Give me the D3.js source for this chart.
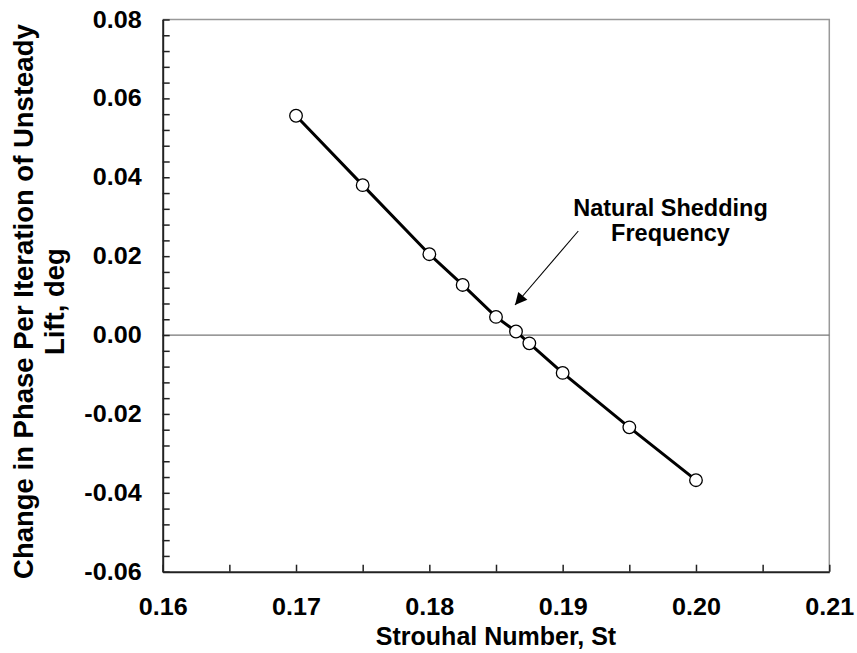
<!DOCTYPE html>
<html>
<head>
<meta charset="utf-8">
<script src="https://cdn.jsdelivr.net/npm/d3@7"></script>
<style>
  html, body { margin: 0; padding: 0; background: #fff; }
  svg { display: block; }
  text { font-family: "Liberation Sans", Arial, Helvetica, sans-serif; font-weight: bold; fill: #000; }
</style>
</head>
<body>
<svg id="chart" width="857" height="653"></svg>
<script>
// ---- data ----
const strouhal = [0.17, 0.175, 0.18, 0.1825, 0.185, 0.1865, 0.1875, 0.19, 0.195, 0.20];
const phaseChange = [0.0556, 0.0380, 0.0205, 0.0127, 0.0046, 0.0009, -0.0021, -0.0096, -0.0234, -0.0368];
const xTickValues = [0.16, 0.17, 0.18, 0.19, 0.20, 0.21];
const xTickLabels = ["0.16", "0.17", "0.18", "0.19", "0.20", "0.21"];
const yTickValues = [0.08, 0.06, 0.04, 0.02, 0.00, -0.02, -0.04, -0.06];
const yTickLabels = ["0.08", "0.06", "0.04", "0.02", "0.00", "-0.02", "-0.04", "-0.06"];
const xMinorTicks = [0.16, 0.165, 0.17, 0.175, 0.18, 0.185, 0.19, 0.195, 0.20, 0.205, 0.21];
const yMinorTicks = d3.range(0, 36).map(i => +(-0.06 + i * 0.004).toFixed(3));
const xTitle = "Strouhal Number, St";
const yTitleLines = ["Change in Phase Per Iteration of Unsteady", "Lift, deg"];
const annotationLines = ["Natural Shedding", "Frequency"];

(function () {
// ---- layout ----
const svg = d3.select("#chart");
const pLeft = 162.7, pRight = 829.3, pTop = 19.5, pBottom = 571.7;
const x = d3.scaleLinear().domain([0.16, 0.21]).range([pLeft, pRight]);
const y = d3.scaleLinear().domain([-0.06, 0.08]).range([pBottom, pTop]);

function stretch(sel, k) {
  sel.each(function () {
    const w = this.getComputedTextLength();
    d3.select(this).attr("textLength", w * k).attr("lengthAdjust", "spacingAndGlyphs");
  });
}

// gray frame (top & right)
svg.append("path")
  .attr("d", `M${pLeft},${pTop}H${pRight}V${pBottom}`)
  .attr("fill", "none").attr("stroke", "#999").attr("stroke-width", 1.5);

// zero line
svg.append("line")
  .attr("x1", pLeft).attr("x2", pRight)
  .attr("y1", y(0)).attr("y2", y(0))
  .attr("stroke", "#777").attr("stroke-width", 1.2);

// x axis minor ticks (inside)
const gx = svg.append("g").attr("transform", `translate(0,${pBottom})`)
  .call(d3.axisBottom(x).tickValues(xMinorTicks).tickSizeInner(-7).tickSizeOuter(0).tickFormat(""));
gx.selectAll("line").attr("stroke", "#222").attr("stroke-width", 1.5);
gx.select(".domain").attr("stroke", "#222").attr("stroke-width", 2);

// x labels
const gxl = svg.append("g").attr("transform", `translate(0,${pBottom})`)
  .call(d3.axisBottom(x).tickValues(xTickValues).tickSize(0).tickPadding(27)
    .tickFormat((d, i) => xTickLabels[i]));
gxl.select(".domain").remove();
gxl.selectAll("text").attr("font-size", 23.5).attr("font-family", null).attr("fill", "#000");
stretch(gxl.selectAll("text"), 1.07);

// y axis minor ticks
const gy = svg.append("g").attr("transform", `translate(${pLeft},0)`)
  .call(d3.axisLeft(y).tickValues(yMinorTicks).tickSizeInner(-7).tickSizeOuter(0).tickFormat(""));
gy.selectAll("line").attr("stroke", "#222").attr("stroke-width", 1.5);
gy.select(".domain").attr("stroke", "#222").attr("stroke-width", 2);

// y labels
const gyl = svg.append("g").attr("transform", `translate(${pLeft},0)`)
  .call(d3.axisLeft(y).tickValues(yTickValues).tickSize(0).tickPadding(21)
    .tickFormat((d, i) => yTickLabels[i]));
gyl.select(".domain").remove();
gyl.selectAll("text").attr("font-size", 23.5).attr("font-family", null).attr("fill", "#000");
stretch(gyl.selectAll("text"), 1.07);

// x title
svg.append("text")
  .attr("x", (pLeft + pRight) / 2).attr("y", 645)
  .attr("text-anchor", "middle").attr("font-size", 25)
  .text(xTitle);

// y title
const yt = svg.append("text")
  .attr("transform", `translate(0,${(pTop + pBottom) / 2 + 6}) rotate(-90)`)
  .attr("text-anchor", "middle").attr("font-size", 27.5);
yt.selectAll("tspan").data(yTitleLines).join("tspan")
  .attr("x", 0).attr("y", (d, i) => 32.6 + i * 31.7)
  .text(d => d);

// line
const pts = strouhal.map((s, i) => [s, phaseChange[i]]);
svg.append("path")
  .datum(pts)
  .attr("fill", "none").attr("stroke", "#000").attr("stroke-width", 3)
  .attr("d", d3.line().x(d => x(d[0])).y(d => y(d[1])));

// markers
svg.append("g").selectAll("circle").data(pts).join("circle")
  .attr("cx", d => x(d[0])).attr("cy", d => y(d[1]))
  .attr("r", 6.3)
  .attr("fill", "#fff").attr("stroke", "#000").attr("stroke-width", 1.3);

// annotation
const at = svg.append("text")
  .attr("text-anchor", "middle").attr("font-size", 23.5);
at.selectAll("tspan").data(annotationLines).join("tspan")
  .attr("x", 670.5).attr("y", (d, i) => 215.7 + i * 25.5)
  .text(d => d);

// arrow
svg.append("defs").append("marker")
  .attr("id", "arrowhead").attr("viewBox", "0 0 10 10")
  .attr("refX", 10).attr("refY", 5)
  .attr("markerWidth", 14).attr("markerHeight", 12)
  .attr("markerUnits", "userSpaceOnUse")
  .attr("orient", "auto")
  .append("path").attr("d", "M0,0L10,5L0,10Z").attr("fill", "#000");
svg.append("line")
  .attr("x1", 578.3).attr("y1", 231)
  .attr("x2", 515).attr("y2", 305)
  .attr("stroke", "#000").attr("stroke-width", 1.1)
  .attr("marker-end", "url(#arrowhead)");
})();
</script>
</body>
</html>
